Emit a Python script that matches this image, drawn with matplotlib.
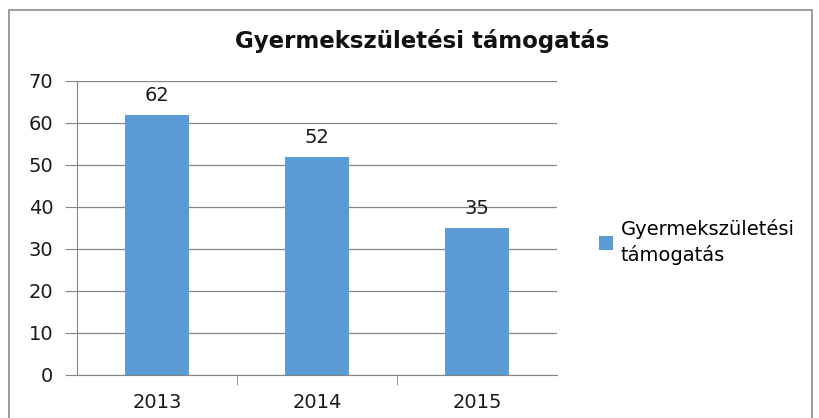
import matplotlib.pyplot as plt
from matplotlib.patches import Rectangle

years = ["2013", "2014", "2015"]
values = [62, 52, 35]
series_name = "Gyermekszületési\ntámogatás"
title = "Gyermekszületési támogatás"

bar_color = "#5B9BD5"
grid_color = "#868686"

fig = plt.figure(figsize=(8.19, 4.18), dpi=100)
ax = fig.add_axes([77/819, 1 - 375/418, 480/819, 294/418])

# chart frame like the Excel chart area
fig.patches.append(Rectangle((9/819, -0.1), 803/819, 1.1 - 10/418, transform=fig.transFigure,
                             fill=False, edgecolor="#8c8c8c", lw=1.2))

x = range(len(years))
bars = ax.bar(x, values, width=0.4, color=bar_color, label=series_name, zorder=3)

for xi, v in zip(x, values):
    ax.text(xi, v + 4.6, str(v), ha="center", va="center", fontsize=14, color="#1a1a1a")

ax.set_xlim(-0.5, 2.5)
ax.set_ylim(0, 70)
ax.set_yticks(range(0, 71, 10))
ax.set_xticks(x)
ax.set_xticklabels(years)
ax.set_xticks([0.5, 1.5], minor=True)
ax.tick_params(axis="x", which="major", length=0, pad=13, labelsize=14, colors="#1a1a1a")
ax.tick_params(axis="x", which="minor", length=7, color=grid_color)
ax.tick_params(axis="y", length=9, color=grid_color, labelsize=14, labelcolor="#1a1a1a", pad=8)

ax.grid(axis="y", color=grid_color, lw=0.9, zorder=0)
for s in ["top", "right"]:
    ax.spines[s].set_visible(False)
for s in ["left", "bottom"]:
    ax.spines[s].set_color(grid_color)

fig.text(422/819, 1 - 41/418, title, ha="center", va="center", fontsize=16.5,
         fontweight="bold", color="#111111")

leg = ax.legend(loc="center left", bbox_to_anchor=(581/819, 1 - 242/418), bbox_transform=fig.transFigure,
                frameon=False, fontsize=14, handlelength=0.75, handleheight=0.75, handletextpad=0.4,
                labelspacing=0.3)
for t in leg.get_texts():
    t.set_linespacing(1.35)

fig.savefig("out.png", dpi=100)
